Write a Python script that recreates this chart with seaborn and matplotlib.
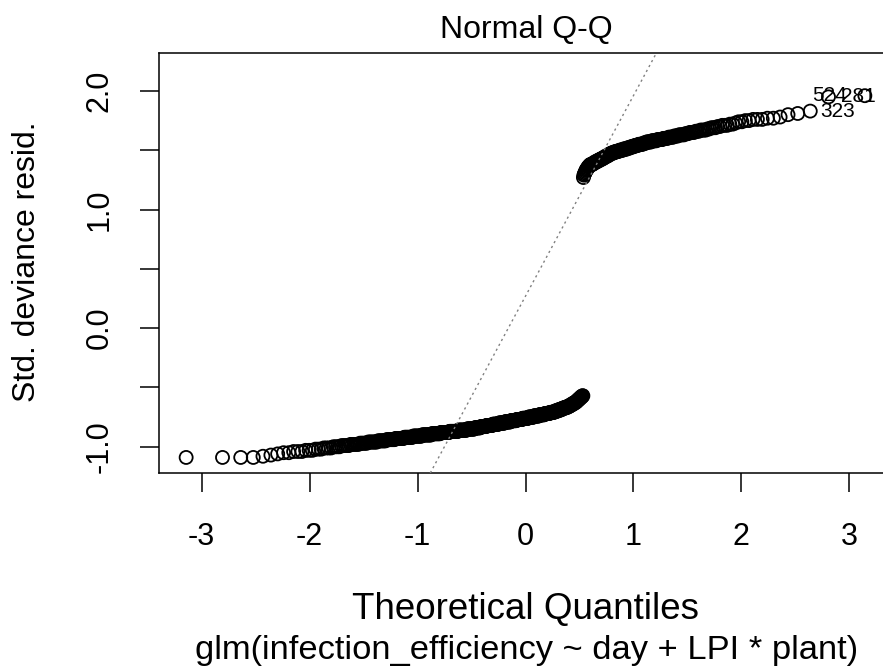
import numpy as np
import pandas as pd
import matplotlib
matplotlib.use("Agg")
import matplotlib.pyplot as plt
import seaborn as sns
from statistics import NormalDist

# ---- data: sorted standardized deviance residuals ----
std_dev_resid = [
    -1.09, -1.09, -1.09, -1.09, -1.08, -1.07, -1.06, -1.05, -1.05,
    -1.04, -1.04, -1.04, -1.03, -1.03, -1.03,
    -1.02, -1.02, -1.02,
    -1.01, -1.01, -1.01, -1.01,
    -1.00, -1.00, -1.00, -1.00,
    -0.99, -0.99, -0.99, -0.99, -0.99,
    -0.98, -0.98, -0.98, -0.98, -0.98, -0.98,
    -0.97, -0.97, -0.97, -0.97, -0.97, -0.97,
    -0.96, -0.96, -0.96, -0.96, -0.96, -0.96, -0.96, -0.96,
    -0.95, -0.95, -0.95, -0.95, -0.95, -0.95, -0.95, -0.95,
    -0.94, -0.94, -0.94, -0.94, -0.94, -0.94, -0.94, -0.94, -0.94,
    -0.93, -0.93, -0.93, -0.93, -0.93, -0.93, -0.93, -0.93, -0.93, -0.93,
    -0.92, -0.92, -0.92, -0.92, -0.92, -0.92, -0.92, -0.92, -0.92, -0.92, -0.92,
    -0.91, -0.91, -0.91, -0.91, -0.91, -0.91, -0.91, -0.91, -0.91, -0.91, -0.91, -0.91,
    -0.90, -0.90, -0.90, -0.90, -0.90, -0.90, -0.90, -0.90, -0.90, -0.90, -0.90, -0.90, -0.90, -0.90,
    -0.89, -0.89, -0.89, -0.89, -0.89, -0.89, -0.89, -0.89, -0.89, -0.89, -0.89, -0.89, -0.89, -0.89,
    -0.88, -0.88, -0.88, -0.88, -0.88, -0.88, -0.88, -0.88, -0.88, -0.88, -0.88, -0.88, -0.88, -0.88, -0.88,
    -0.87, -0.87, -0.87, -0.87, -0.87, -0.87, -0.87, -0.87, -0.87, -0.87, -0.87, -0.87, -0.87, -0.87, -0.87, -0.87,
    -0.86, -0.86, -0.86, -0.86, -0.86, -0.86, -0.86, -0.86, -0.86, -0.86, -0.86, -0.86, -0.86, -0.86, -0.86, -0.86,
    -0.85, -0.85, -0.85, -0.85, -0.85, -0.85, -0.85, -0.85, -0.85, -0.85, -0.85, -0.85, -0.85, -0.85, -0.85,
    -0.84, -0.84, -0.84, -0.84, -0.84, -0.84, -0.84, -0.84, -0.84, -0.84, -0.84, -0.84,
    -0.83, -0.83, -0.83, -0.83, -0.83, -0.83, -0.83, -0.83, -0.83, -0.83, -0.83, -0.83,
    -0.82, -0.82, -0.82, -0.82, -0.82, -0.82, -0.82, -0.82, -0.82, -0.82, -0.82, -0.82, -0.82,
    -0.81, -0.81, -0.81, -0.81, -0.81, -0.81, -0.81, -0.81, -0.81, -0.81, -0.81, -0.81, -0.81,
    -0.80, -0.80, -0.80, -0.80, -0.80, -0.80, -0.80, -0.80, -0.80, -0.80, -0.80, -0.80, -0.80,
    -0.79, -0.79, -0.79, -0.79, -0.79, -0.79, -0.79, -0.79, -0.79, -0.79, -0.79, -0.79, -0.79,
    -0.78, -0.78, -0.78, -0.78, -0.78, -0.78, -0.78, -0.78, -0.78, -0.78, -0.78, -0.78, -0.78,
    -0.77, -0.77, -0.77, -0.77, -0.77, -0.77, -0.77, -0.77, -0.77, -0.77, -0.77, -0.77, -0.77,
    -0.76, -0.76, -0.76, -0.76, -0.76, -0.76, -0.76, -0.76, -0.76, -0.76, -0.76, -0.76, -0.76,
    -0.75, -0.75, -0.75, -0.75, -0.75, -0.75, -0.75, -0.75, -0.75, -0.75, -0.75, -0.75,
    -0.74, -0.74, -0.74, -0.74, -0.74, -0.74, -0.74, -0.74, -0.74, -0.74, -0.74, -0.74,
    -0.73, -0.73, -0.73, -0.73, -0.73, -0.73, -0.73, -0.73, -0.73, -0.73, -0.73, -0.73,
    -0.72, -0.72, -0.72, -0.72, -0.72, -0.72, -0.72, -0.72, -0.72, -0.72, -0.72,
    -0.71, -0.71, -0.71, -0.71, -0.71, -0.71, -0.71, -0.71, -0.71, -0.71,
    -0.70, -0.70, -0.70, -0.70, -0.70, -0.70, -0.70,
    -0.69, -0.69, -0.69, -0.69, -0.69, -0.69, -0.69,
    -0.68, -0.68, -0.68, -0.68, -0.68, -0.68,
    -0.67, -0.67, -0.67, -0.67, -0.67, -0.67, -0.67,
    -0.66, -0.66, -0.66, -0.66, -0.66,
    -0.65, -0.65, -0.65, -0.65,
    -0.64, -0.64, -0.64, -0.64,
    -0.63, -0.63, -0.63, -0.63,
    -0.62, -0.62, -0.62,
    -0.61, -0.61,
    -0.60, -0.60, -0.60,
    -0.59, -0.59,
    -0.58, -0.58, -0.58,
    -0.57, -0.57,
    1.27, 1.29, 1.30, 1.31, 1.32, 1.33, 1.34, 1.34, 1.35, 1.36, 1.36, 1.37, 1.37,
    1.38, 1.38, 1.38, 1.38, 1.38,
    1.39, 1.39, 1.39,
    1.40, 1.40, 1.40, 1.40,
    1.41, 1.41, 1.41, 1.41,
    1.42, 1.42, 1.42, 1.42,
    1.43, 1.43, 1.43, 1.43,
    1.44, 1.44, 1.44,
    1.45, 1.45, 1.45, 1.45,
    1.46, 1.46, 1.46,
    1.47, 1.47, 1.47, 1.47,
    1.48, 1.48, 1.48, 1.48, 1.48,
    1.49, 1.49, 1.49, 1.49, 1.49, 1.49,
    1.50, 1.50, 1.50, 1.50, 1.50, 1.50,
    1.51, 1.51, 1.51, 1.51, 1.51, 1.51,
    1.52, 1.52, 1.52, 1.52, 1.52,
    1.53, 1.53, 1.53, 1.53, 1.53,
    1.54, 1.54, 1.54, 1.54, 1.54,
    1.55, 1.55, 1.55, 1.55, 1.55, 1.55,
    1.56, 1.56, 1.56, 1.56,
    1.57, 1.57, 1.57, 1.57, 1.57, 1.57,
    1.58, 1.58, 1.58, 1.58, 1.58, 1.58,
    1.59, 1.59, 1.59, 1.59, 1.59, 1.59,
    1.60, 1.60, 1.60, 1.60, 1.60,
    1.61, 1.61, 1.61, 1.61, 1.61,
    1.62, 1.62, 1.62, 1.62,
    1.63, 1.63, 1.63, 1.63, 1.63,
    1.64, 1.64, 1.64,
    1.65, 1.65, 1.65, 1.65,
    1.66, 1.66, 1.66,
    1.67, 1.67, 1.67, 1.67,
    1.68, 1.68,
    1.69, 1.69, 1.69,
    1.70, 1.70,
    1.71, 1.71, 1.71,
    1.72, 1.72,
    1.73,
    1.74, 1.74,
    1.75, 1.75,
    1.76, 1.76, 1.76,
    1.77, 1.77,
    1.78, 1.80, 1.81, 1.83,
    1.95, 1.96,
]
id_labels = ["323", "281", "524"]          # the three most extreme residuals
x_ticks = [-3, -2, -1, 0, 1, 2, 3]
x_tick_labels = ["-3", "-2", "-1", "0", "1", "2", "3"]
y_ticks = [-1.0, -0.5, 0.0, 0.5, 1.0, 1.5, 2.0]
y_tick_labels = ["-1.0", "", "0.0", "", "1.0", "", "2.0"]
title = "Normal Q-Q"
x_label = "Theoretical Quantiles"
y_label = "Std. deviance resid."
sub_caption = "glm(infection_efficiency ~ day + LPI * plant)"

# ---- Q-Q construction (as qqnorm does) ----
resid = np.sort(np.array(std_dev_resid))
n = len(resid)
nd = NormalDist()
theo = np.array([nd.inv_cdf((i + 0.5) / n) for i in range(n)])
df = pd.DataFrame({"Theoretical Quantiles": theo, "resid": resid})

sns.set_theme(style="white")
plt.rcParams["font.family"] = ["Liberation Sans", "DejaVu Sans"]
plt.rcParams["axes.unicode_minus"] = False
plt.rcParams["text.color"] = "black"

W, H = 883, 671
fig = plt.figure(figsize=(W / 100, H / 100), dpi=100)
ax = fig.add_axes([159 / W, 1 - 473 / H, (892 - 159) / W, (473 - 53) / H])

sns.scatterplot(data=df, x="Theoretical Quantiles", y="resid", ax=ax,
                marker="o", s=88, linewidth=1.3, zorder=2, legend=False)
pts = ax.collections[-1]
pts.set_facecolor("none")
pts.set_edgecolor("black")

# qqline through the quartiles
q25, q75 = np.percentile(resid, [25, 75])
x25, x75 = nd.inv_cdf(0.25), nd.inv_cdf(0.75)
slope = (q75 - q25) / (x75 - x25)
intercept = q25 - slope * x25
ax.axline((0, intercept), slope=slope, color="#808080",
          linestyle=(0, (1.6, 2.4)), linewidth=1.0, zorder=3)

# limits as R's plot.lm
xr = theo.max() - theo.min()
ax.set_xlim(theo.min() - 0.04 * xr, theo.max() + 0.04 * xr)
ylo, yhi = resid.min(), resid.max()
yhi = yhi + 0.075 * (yhi - ylo)
yr = yhi - ylo
ax.set_ylim(ylo - 0.04 * yr, yhi + 0.04 * yr)

ax.set_xticks(x_ticks)
ax.set_xticklabels(x_tick_labels)
ax.set_yticks(y_ticks)
ax.set_yticklabels(y_tick_labels, rotation=90, va="center")
ax.tick_params(axis="both", which="major", direction="out", length=14,
               width=1.1, color="black", labelsize=22, labelcolor="black",
               bottom=True, left=True, top=False, right=False)
ax.tick_params(axis="x", pad=21)
ax.tick_params(axis="y", pad=18)
ax.set_xlabel("")
ax.set_ylabel("")
for sp in ax.spines.values():
    sp.set_visible(True)
    sp.set_color("black")
    sp.set_linewidth(1.1)

# point identification labels
offsets = [(7, "left"), (9, "left"), (-13, "right")]
for k, (lab, (dx, ha)) in enumerate(zip(id_labels, offsets)):
    idx = n - 3 + k
    ax.annotate(lab, (theo[idx], resid[idx]), xytext=(dx, 0),
                textcoords="offset points", ha=ha, va="center",
                fontsize=15, color="black", annotation_clip=False)

fig.text(526 / W, 1 - 30 / H, title, ha="center", va="center",
         fontsize=23, color="black")
fig.text(526 / W, 1 - 610 / H, x_label, ha="center", va="center",
         fontsize=26.5, color="black")
fig.text(527 / W, 1 - 651 / H, sub_caption, ha="center", va="center",
         fontsize=24.8, color="black")
fig.text(27 / W, 1 - 262 / H, y_label, ha="center", va="center",
         rotation=90, fontsize=23, color="black")

fig.savefig("out.png", dpi=100)
